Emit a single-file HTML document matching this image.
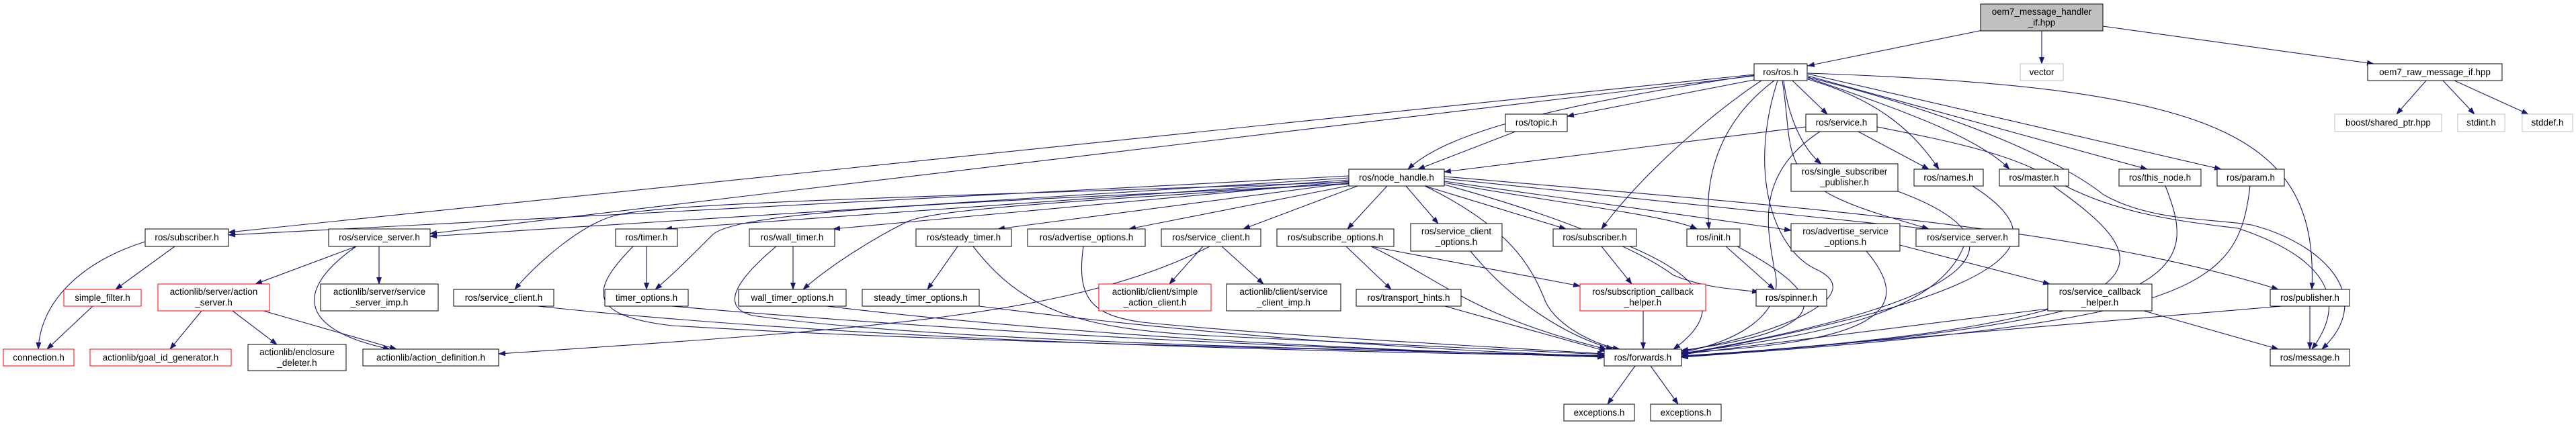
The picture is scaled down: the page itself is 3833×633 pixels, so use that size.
<!DOCTYPE html>
<html><head><meta charset="utf-8"><style>
html,body{margin:0;padding:0;background:#fff;}
svg{display:block;}
text{font-family:"Liberation Sans",sans-serif;font-size:13.5px;fill:#000;text-anchor:middle;}
.e{fill:none;stroke:#191970;stroke-width:1.1;marker-end:url(#a);}
.n{fill:#fff;stroke:#000;stroke-width:1;}
.r{fill:#fff;stroke:#ff0000;stroke-width:1;}
.g{fill:#fff;stroke:#bfbfbf;stroke-width:1;}
</style></head><body>
<svg width="3833" height="633" viewBox="0 0 3833 633" xmlns="http://www.w3.org/2000/svg">
<defs><marker id="a" markerUnits="userSpaceOnUse" markerWidth="11" markerHeight="8" refX="10" refY="4" orient="auto"><path d="M0,0 L11,4 L0,8 z" fill="#191970"/></marker></defs>
<g>
<path class="e" d="M2950,45 L2690,98"/>
<path class="e" d="M3038,46 L3038,95"/>
<path class="e" d="M3129,39 L3532,95"/>
<path class="e" d="M3610,120 L3566,170"/>
<path class="e" d="M3635,120 L3682,170"/>
<path class="e" d="M3652,120 L3762,170"/>
<path class="e" d="M2620,117 L2332,173"/>
<path class="e" d="M2667,120 L2719,170"/>
<path class="e" d="M2610,112 C2250,165 2140,210 2095,252"/>
<path class="e" d="M2610,111 L340,346"/>
<path class="e" d="M2610,113 L640,348"/>
<path class="e" d="M2654,120 C2660,170 2680,220 2710,244"/>
<path class="e" d="M2690,118 C2800,150 2850,200 2885,252"/>
<path class="e" d="M2690,116 C2850,170 2950,210 2990,252"/>
<path class="e" d="M2690,113 L3195,252"/>
<path class="e" d="M2690,110 L3305,252"/>
<path class="e" d="M2690,109 C3300,130 3450,200 3440,431"/>
<path class="e" d="M2690,115 C2950,180 3080,250 3130,290 C3200,330 3290,325 3350,335 C3450,360 3540,440 3455,520"/>
<path class="e" d="M2621,120 C2560,160 2450,250 2383,341"/>
<path class="e" d="M2640,120 C2560,180 2535,260 2543,341"/>
<path class="e" d="M2645,120 C2600,260 2640,370 2700,400 C2790,440 2640,500 2502,523"/>
<path class="e" d="M2652,120 C2670,230 2640,270 2800,320 L2870,341"/>
<path class="e" d="M2255,196 L2110,252"/>
<path class="e" d="M2687,189 L2149,256"/>
<path class="e" d="M2765,196 L2870,252"/>
<path class="e" d="M2708,196 C2610,260 2630,340 2640,400 C2660,470 2580,510 2502,525"/>
<path class="e" d="M2793,189 C2900,210 3000,230 3060,270 C3150,320 3250,330 3330,340 C3450,380 3500,440 3440,520"/>
<path class="e" d="M2007,262 L340,350"/>
<path class="e" d="M2007,265 L640,352"/>
<path class="e" d="M2007,268 L990,341"/>
<path class="e" d="M2007,270 L1240,341"/>
<path class="e" d="M2010,272 L1485,341"/>
<path class="e" d="M2015,275 L1680,341"/>
<path class="e" d="M2020,277 L1850,341"/>
<path class="e" d="M2064,277 L2005,341"/>
<path class="e" d="M2092,277 L2140,333"/>
<path class="e" d="M2120,277 L2330,341"/>
<path class="e" d="M2149,272 C2300,300 2480,320 2525,341"/>
<path class="e" d="M2149,270 L2665,343"/>
<path class="e" d="M2149,266 L2870,341"/>
<path class="e" d="M2149,263 C2700,310 3100,340 3390,431"/>
<path class="e" d="M2120,277 C2250,340 2280,400 2300,450 C2320,490 2380,515 2410,520"/>
<path class="e" d="M2149,275 C2350,330 2450,380 2490,410 C2540,430 2580,430 2617,435"/>
<path class="e" d="M2007,274 C1500,300 1100,310 1060,350 C1030,380 1000,410 975,431"/>
<path class="e" d="M2007,273 C1600,300 1400,310 1350,330 C1290,360 1230,400 1195,431"/>
<path class="e" d="M2007,271 C1500,290 1000,300 920,320 C870,330 800,390 766,431"/>
<path class="e" d="M1800,367 C1600,470 1300,490 742,527"/>
<path class="e" d="M962,367 L962,431"/>
<path class="e" d="M942,367 C880,430 870,470 1000,485 C1400,510 2000,520 2387,530"/>
<path class="e" d="M1180,367 L1180,431"/>
<path class="e" d="M1155,367 C1080,430 1080,460 1120,470 C1400,510 2000,520 2387,530"/>
<path class="e" d="M1425,367 L1380,431"/>
<path class="e" d="M1448,367 C1520,460 1600,490 1800,500 C2000,510 2200,520 2387,528"/>
<path class="e" d="M1612,367 C1600,450 1630,470 1700,480 C1900,500 2200,515 2387,527"/>
<path class="e" d="M1790,367 L1740,423"/>
<path class="e" d="M1818,367 L1880,423"/>
<path class="e" d="M2003,367 L2070,431"/>
<path class="e" d="M2040,367 L2351,426"/>
<path class="e" d="M2040,367 C2150,420 2190,470 2390,520"/>
<path class="e" d="M2188,374 C2250,450 2330,500 2400,520"/>
<path class="e" d="M2383,367 L2428,423"/>
<path class="e" d="M2425,367 C2550,420 2560,470 2490,520"/>
<path class="e" d="M2568,367 L2640,431"/>
<path class="e" d="M2585,367 C2720,440 2740,490 2502,522"/>
<path class="e" d="M2827,365 L3050,423"/>
<path class="e" d="M2777,374 C2850,460 2800,510 2502,525"/>
<path class="e" d="M2922,367 C2880,470 2700,500 2502,526"/>
<path class="e" d="M2445,463 L2445,520"/>
<path class="e" d="M3047,460 L2502,528"/>
<path class="e" d="M3190,463 L3390,520"/>
<path class="e" d="M2824,285 C3000,350 3000,440 2502,527"/>
<path class="e" d="M2935,277 C3050,350 3050,430 2502,528"/>
<path class="e" d="M3055,277 C3200,380 3300,480 2502,530"/>
<path class="e" d="M3222,277 C3270,400 3270,480 2502,531"/>
<path class="e" d="M3348,277 C3330,430 3270,480 2502,532"/>
<path class="e" d="M3395,456 L2502,532"/>
<path class="e" d="M3437,456 L3437,520"/>
<path class="e" d="M1000,456 C1500,500 2000,520 2387,532"/>
<path class="e" d="M1230,456 C1600,500 2000,520 2387,532"/>
<path class="e" d="M1457,456 C1800,500 2100,520 2387,531"/>
<path class="e" d="M2150,456 L2390,523"/>
<path class="e" d="M800,456 C1300,510 2000,525 2387,530"/>
<path class="e" d="M260,367 L172,431"/>
<path class="e" d="M216,360 C120,390 60,450 57,520"/>
<path class="e" d="M138,456 L70,520"/>
<path class="e" d="M530,367 L380,423"/>
<path class="e" d="M564,367 L564,423"/>
<path class="e" d="M530,367 C440,430 440,490 580,520"/>
<path class="e" d="M300,463 L253,520"/>
<path class="e" d="M346,463 L412,513"/>
<path class="e" d="M392,463 L590,520"/>
<path class="e" d="M2433,545 L2392,602"/>
<path class="e" d="M2456,545 L2497,602"/>
</g>
<g>
<rect x="2947" y="6" width="182" height="40" fill="#bfbfbf" stroke="#000"/><text x="3038" y="22">oem7_message_handler</text><text x="3038" y="38">_if.hpp</text>
<rect class="n" x="2610" y="95" width="79" height="25"/><text x="2649.5" y="112">ros/ros.h</text>
<rect class="g" x="3006" y="95" width="64" height="25"/><text x="3038" y="112">vector</text>
<rect class="n" x="3523" y="95" width="200" height="25"/><text x="3623" y="112">oem7_raw_message_if.hpp</text>
<rect class="n" x="2240" y="170" width="92" height="26"/><text x="2286" y="187">ros/topic.h</text>
<rect class="n" x="2687" y="170" width="106" height="26"/><text x="2740" y="187">ros/service.h</text>
<rect class="g" x="3474" y="170" width="159" height="26"/><text x="3553.5" y="187">boost/shared_ptr.hpp</text>
<rect class="g" x="3657" y="170" width="70" height="26"/><text x="3692" y="187">stdint.h</text>
<rect class="g" x="3753" y="170" width="75" height="26"/><text x="3790.5" y="187">stddef.h</text>
<rect class="n" x="2007" y="252" width="142" height="25"/><text x="2078" y="269">ros/node_handle.h</text>
<rect class="n" x="2665" y="244" width="159" height="41"/><text x="2744.5" y="260">ros/single_subscriber</text><text x="2744.5" y="276">_publisher.h</text>
<rect class="n" x="2848" y="252" width="103" height="25"/><text x="2899.5" y="269">ros/names.h</text>
<rect class="n" x="2975" y="252" width="103" height="25"/><text x="3026.5" y="269">ros/master.h</text>
<rect class="n" x="3153" y="252" width="122" height="25"/><text x="3214" y="269">ros/this_node.h</text>
<rect class="n" x="3299" y="252" width="100" height="25"/><text x="3349" y="269">ros/param.h</text>
<rect class="n" x="216" y="341" width="124" height="26"/><text x="278" y="358">ros/subscriber.h</text>
<rect class="n" x="489" y="341" width="151" height="26"/><text x="564.5" y="358">ros/service_server.h</text>
<rect class="n" x="916" y="341" width="92" height="26"/><text x="962" y="358">ros/timer.h</text>
<rect class="n" x="1115" y="341" width="127" height="26"/><text x="1178.5" y="358">ros/wall_timer.h</text>
<rect class="n" x="1363" y="341" width="142" height="26"/><text x="1434" y="358">ros/steady_timer.h</text>
<rect class="n" x="1529" y="341" width="175" height="26"/><text x="1616.5" y="358">ros/advertise_options.h</text>
<rect class="n" x="1728" y="341" width="148" height="26"/><text x="1802" y="358">ros/service_client.h</text>
<rect class="n" x="1900" y="341" width="174" height="26"/><text x="1987" y="358">ros/subscribe_options.h</text>
<rect class="n" x="2099" y="333" width="136" height="41"/><text x="2167" y="349">ros/service_client</text><text x="2167" y="365">_options.h</text>
<rect class="n" x="2311" y="341" width="124" height="26"/><text x="2373" y="358">ros/subscriber.h</text>
<rect class="n" x="2510" y="341" width="79" height="26"/><text x="2549.5" y="358">ros/init.h</text>
<rect class="n" x="2665" y="333" width="162" height="41"/><text x="2746" y="349">ros/advertise_service</text><text x="2746" y="365">_options.h</text>
<rect class="n" x="2851" y="341" width="153" height="26"/><text x="2927.5" y="358">ros/service_server.h</text>
<rect class="r" x="95" y="431" width="115" height="25"/><text x="152.5" y="448">simple_filter.h</text>
<rect class="r" x="235" y="423" width="166" height="40"/><text x="318" y="439">actionlib/server/action</text><text x="318" y="455">_server.h</text>
<rect class="n" x="477" y="423" width="175" height="40"/><text x="564.5" y="439">actionlib/server/service</text><text x="564.5" y="455">_server_imp.h</text>
<rect class="n" x="675" y="431" width="149" height="25"/><text x="749.5" y="448">ros/service_client.h</text>
<rect class="n" x="900" y="431" width="124" height="25"/><text x="962" y="448">timer_options.h</text>
<rect class="n" x="1099" y="431" width="160" height="25"/><text x="1179" y="448">wall_timer_options.h</text>
<rect class="n" x="1283" y="431" width="174" height="25"/><text x="1370" y="448">steady_timer_options.h</text>
<rect class="r" x="1635" y="423" width="167" height="40"/><text x="1718.5" y="439">actionlib/client/simple</text><text x="1718.5" y="455">_action_client.h</text>
<rect class="n" x="1825" y="423" width="170" height="40"/><text x="1910" y="439">actionlib/client/service</text><text x="1910" y="455">_client_imp.h</text>
<rect class="n" x="2018" y="431" width="156" height="25"/><text x="2096" y="448">ros/transport_hints.h</text>
<rect class="r" x="2351" y="423" width="187" height="40"/><text x="2444.5" y="439">ros/subscription_callback</text><text x="2444.5" y="455">_helper.h</text>
<rect class="n" x="2613" y="431" width="105" height="25"/><text x="2665.5" y="448">ros/spinner.h</text>
<rect class="n" x="3047" y="423" width="155" height="40"/><text x="3124.5" y="439">ros/service_callback</text><text x="3124.5" y="455">_helper.h</text>
<rect class="n" x="3378" y="431" width="118" height="25"/><text x="3437" y="448">ros/publisher.h</text>
<rect class="r" x="5" y="520" width="105" height="25"/><text x="57.5" y="537">connection.h</text>
<rect class="r" x="134" y="520" width="210" height="25"/><text x="239" y="537">actionlib/goal_id_generator.h</text>
<rect class="n" x="369" y="513" width="146" height="39"/><text x="442" y="529">actionlib/enclosure</text><text x="442" y="545">_deleter.h</text>
<rect class="n" x="540" y="520" width="202" height="25"/><text x="641" y="537">actionlib/action_definition.h</text>
<rect class="n" x="2387" y="520" width="115" height="25"/><text x="2444.5" y="537">ros/forwards.h</text>
<rect class="n" x="3378" y="520" width="118" height="25"/><text x="3437" y="537">ros/message.h</text>
<rect class="n" x="2327" y="602" width="105" height="25"/><text x="2379.5" y="619">exceptions.h</text>
<rect class="n" x="2456" y="602" width="105" height="25"/><text x="2508.5" y="619">exceptions.h</text>
</g>
</svg>
</body></html>
